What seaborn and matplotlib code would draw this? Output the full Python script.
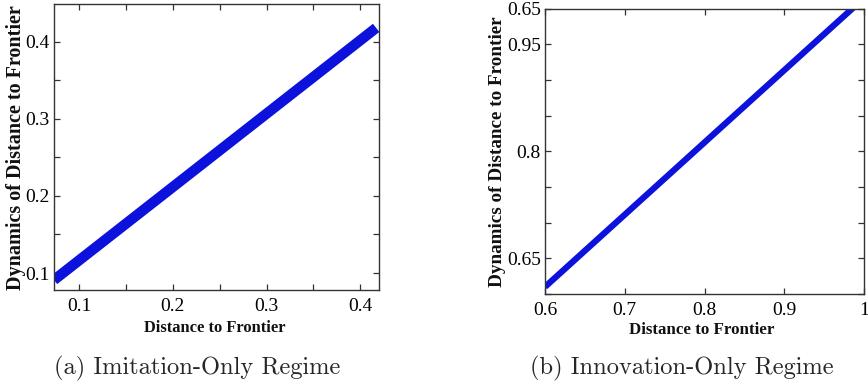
import matplotlib
matplotlib.use("Agg")
import matplotlib.pyplot as plt
from matplotlib.ticker import MultipleLocator, FixedLocator
import seaborn as sns
import pandas as pd

# Imitation-only regime: distance to frontier vs. its dynamics
imit_x = [0.073, 0.417]
imit_y = [0.091, 0.418]

# Innovation-only regime
innov_x = [0.60, 1.00]
innov_y = [0.61, 1.015]

left_xticks = [0.1, 0.2, 0.3, 0.4]
left_yticks = [0.1, 0.2, 0.3, 0.4]
right_xticks = [0.6, 0.7, 0.8, 0.9, 1.0]
right_xticklabels = ["0.6", "0.7", "0.8", "0.9", "1"]
right_yticks = [0.65, 0.8, 0.95, 1.0]
right_yticklabels = ["0.65", "0.8", "0.95", "0.65"]

xlabel = "Distance to Frontier"
ylabel = "Dynamics of Distance to Frontier"
captions = ["(a) Imitation-Only Regime", "(b) Innovation-Only Regime"]

sns.set_style("ticks")
plt.rcParams["font.family"] = ["Liberation Serif", "DejaVu Serif"]

line_color = "#0c12dc"
spine_color = "#333333"

fig = plt.figure(figsize=(8.68, 3.92), dpi=100)
ax1 = fig.add_axes([0.0622, 0.2602, 0.3744, 0.7296])
ax2 = fig.add_axes([0.6279, 0.2500, 0.3675, 0.7278])

df1 = pd.DataFrame({"x": imit_x, "y": imit_y})
df2 = pd.DataFrame({"x": innov_x, "y": innov_y})

sns.lineplot(data=df1, x="x", y="y", ax=ax1, color=line_color, linewidth=7.5,
             solid_capstyle="butt")
sns.lineplot(data=df2, x="x", y="y", ax=ax2, color=line_color, linewidth=4.5,
             solid_capstyle="butt")

ax1.set_xlim(0.073, 0.42)
ax1.set_ylim(0.078, 0.449)
ax1.xaxis.set_major_locator(FixedLocator(left_xticks))
ax1.yaxis.set_major_locator(FixedLocator(left_yticks))
ax1.xaxis.set_minor_locator(MultipleLocator(0.05))
ax1.yaxis.set_minor_locator(MultipleLocator(0.05))
ax1.set_xticklabels([f"{t:g}" for t in left_xticks])
ax1.set_yticklabels([f"{t:g}" for t in left_yticks])

ax2.set_xlim(0.6, 1.0)
ax2.set_ylim(0.6, 1.0)
ax2.xaxis.set_major_locator(FixedLocator(right_xticks))
ax2.set_xticklabels(right_xticklabels)
ax2.yaxis.set_major_locator(FixedLocator(right_yticks))
ax2.set_yticklabels(right_yticklabels)
ax2.yaxis.set_minor_locator(MultipleLocator(0.05))

for ax in (ax1, ax2):
    ax.set_xlabel("")
    ax.set_ylabel("")
    for s in ax.spines.values():
        s.set_visible(True)
        s.set_color(spine_color)
        s.set_linewidth(1.0)
    ax.tick_params(which="both", direction="in", top=True, right=True,
                   length=4, width=0.9, color=spine_color,
                   labelsize=14, labelcolor="black")
    ax.tick_params(axis="x", which="both", pad=6)
    ax.tick_params(axis="y", which="both", pad=3)

label_kw = dict(fontweight="bold", color="#111111", ha="center", va="center")
fig.text(215 / 868, 1 - 328 / 392, xlabel, fontsize=11.9, **label_kw)
fig.text(702 / 868, 1 - 330 / 392, xlabel, fontsize=12.2, **label_kw)
fig.text(16 / 868, 1 - 148 / 392, ylabel, fontsize=14.5, rotation=90, **label_kw)
fig.text(498 / 868, 1 - 152 / 392, ylabel, fontsize=13.8, rotation=90, **label_kw)

fig.text(197 / 868, 1 - 368 / 392, captions[0], fontsize=17.6, family="cmr10",
         ha="center", va="center")
fig.text(682 / 868, 1 - 368 / 392, captions[1], fontsize=17.6, family="cmr10",
         ha="center", va="center")

fig.savefig("out.png", dpi=100)
